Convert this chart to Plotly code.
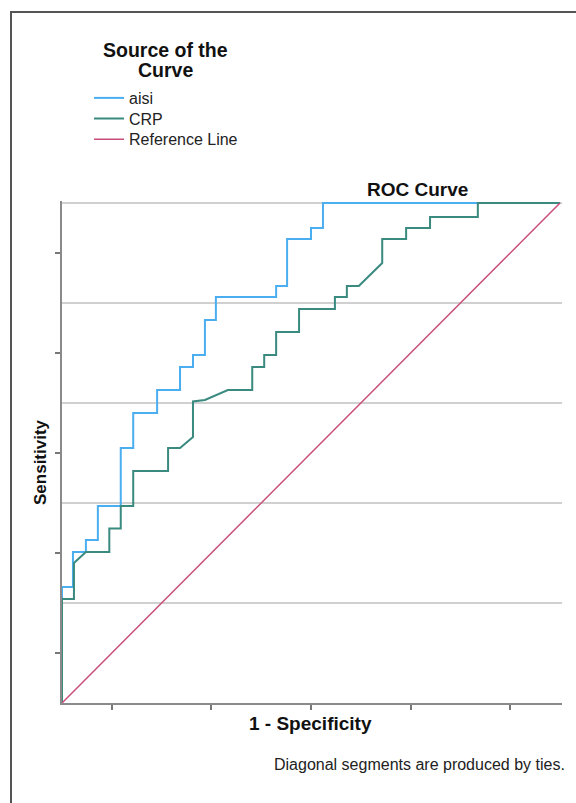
import plotly.graph_objects as go

# ---- data ----
aisi_fpr = [0, 0, 0.022, 0.022, 0.048, 0.048, 0.072, 0.072, 0.118, 0.118, 0.143, 0.143,
            0.191, 0.191, 0.237, 0.237, 0.263, 0.263, 0.287, 0.287, 0.309, 0.309,
            0.430, 0.430, 0.452, 0.452, 0.500, 0.500, 0.524, 0.524, 1.0]
aisi_tpr = [0, 0.232, 0.232, 0.302, 0.302, 0.326, 0.326, 0.394, 0.394, 0.510, 0.510, 0.580,
            0.580, 0.626, 0.626, 0.672, 0.672, 0.696, 0.696, 0.766, 0.766, 0.812,
            0.812, 0.834, 0.834, 0.928, 0.928, 0.950, 0.950, 1.0, 1.0]

crp_fpr = [0, 0, 0.024, 0.024, 0.048, 0.095, 0.095, 0.118, 0.118, 0.143, 0.143, 0.213,
           0.213, 0.237, 0.263, 0.263, 0.287, 0.333, 0.382, 0.382, 0.406, 0.406,
           0.430, 0.430, 0.476, 0.476, 0.548, 0.548, 0.572, 0.572, 0.596, 0.643,
           0.643, 0.691, 0.691, 0.739, 0.739, 0.835, 0.835, 1.0]
crp_tpr = [0, 0.208, 0.208, 0.280, 0.302, 0.302, 0.349, 0.349, 0.394, 0.394, 0.464, 0.464,
           0.510, 0.510, 0.532, 0.603, 0.606, 0.626, 0.626, 0.672, 0.672, 0.696,
           0.696, 0.742, 0.742, 0.788, 0.788, 0.812, 0.812, 0.834, 0.834, 0.880,
           0.928, 0.928, 0.950, 0.950, 0.972, 0.972, 1.0, 1.0]

ref_x = [0, 1]
ref_y = [0, 1]

series_names = ["aisi", "CRP", "Reference Line"]
series_colors = ["#4aaef0", "#3a8a80", "#c94d7b"]

x_ticks = [0.1, 0.3, 0.5, 0.7, 0.9]
y_grid = [0.2, 0.4, 0.6, 0.8, 1.0]
y_minor = [0.1, 0.3, 0.5, 0.7, 0.9]

FONT = "Liberation Sans, Arial, sans-serif"

L, R, T, B = 62, 14, 201, 100
W, H = 576, 803
PW, PH = W - L - R, H - T - B


def px(x):
    return (x - L) / PW


def py(y):
    return (H - B - y) / PH


legend_ids = ["legend", "legend2", "legend3"]
legend_rows = [98, 118.7, 139.3]

fig = go.Figure()
fig.add_trace(go.Scatter(x=aisi_fpr, y=aisi_tpr, mode="lines", name=series_names[0],
                         line=dict(color=series_colors[0], width=2), legend=legend_ids[0]))
fig.add_trace(go.Scatter(x=crp_fpr, y=crp_tpr, mode="lines", name=series_names[1],
                         line=dict(color=series_colors[1], width=2), legend=legend_ids[1]))
fig.add_trace(go.Scatter(x=ref_x, y=ref_y, mode="lines", name=series_names[2],
                         line=dict(color=series_colors[2], width=1.5), legend=legend_ids[2]))

leg_common = dict(xanchor="left", yanchor="middle", bgcolor="rgba(0,0,0,0)",
                  font=dict(size=16, family=FONT, color="#222222"), itemwidth=30,
                  borderwidth=0)
legend_layout = {}
for lid, row in zip(legend_ids, legend_rows):
    legend_layout[lid] = dict(x=px(89), y=py(row), **leg_common)

fig.update_layout(
    width=W, height=H,
    margin=dict(l=L, r=R, t=T, b=B),
    paper_bgcolor="white", plot_bgcolor="white",
    font=dict(family=FONT, color="#222222"),
    showlegend=True,
    xaxis=dict(range=[0, 1.004], tickvals=x_ticks, ticks="outside", ticklen=5,
               tickcolor="#777777", tickwidth=1.5, showticklabels=False,
               showline=True, linecolor="#8a8a8a", linewidth=2,
               showgrid=False, zeroline=False, fixedrange=True),
    yaxis=dict(range=[0, 1.004], tickvals=y_grid, ticks="", showticklabels=False,
               showgrid=True, gridcolor="#d0d0d0", gridwidth=1.5,
               showline=True, linecolor="#8a8a8a", linewidth=2, zeroline=False,
               minor=dict(tickvals=y_minor, ticks="outside", ticklen=5,
                          tickcolor="#777777", tickwidth=1.5, showgrid=False),
               fixedrange=True),
    **legend_layout,
)

title_font = dict(size=19.5, family=FONT, color="#111111")
annotations = [
    dict(text="<b>Source of the</b>", x=px(165), y=py(50), xref="paper", yref="paper",
         xanchor="center", yanchor="middle", showarrow=False, font=title_font),
    dict(text="<b>Curve</b>", x=px(165), y=py(69.5), xref="paper", yref="paper",
         xanchor="center", yanchor="middle", showarrow=False, font=title_font),
    dict(text="<b>ROC Curve</b>", x=px(417), y=py(189), xref="paper", yref="paper",
         xanchor="center", yanchor="middle", showarrow=False, font=dict(size=19, family=FONT, color="#111111")),
    dict(text="<b>1 - Specificity</b>", x=px(310), y=py(723), xref="paper", yref="paper",
         xanchor="center", yanchor="middle", showarrow=False, font=dict(size=19, family=FONT, color="#111111")),
    dict(text="<b>Sensitivity</b>", x=px(40), y=py(462), xref="paper", yref="paper", textangle=-90,
         xanchor="center", yanchor="middle", showarrow=False, font=dict(size=17, family=FONT, color="#111111")),
    dict(text="Diagonal segments are produced by ties.", x=px(567), y=py(764), xref="paper", yref="paper",
         xanchor="right", yanchor="middle", showarrow=False, font=dict(size=16, family=FONT, color="#222222")),
]
fig.update_layout(annotations=annotations)

# outer frame of the chart image
fig.add_shape(type="rect", xref="paper", yref="paper",
              x0=px(11), x1=px(590), y0=py(830), y1=py(12),
              line=dict(color="#555555", width=2), fillcolor="rgba(0,0,0,0)", layer="above")

fig.write_html("out.html", config={"displayModeBar": False},
               post_script="document.body.style.margin='0';document.body.style.overflow='hidden';")
